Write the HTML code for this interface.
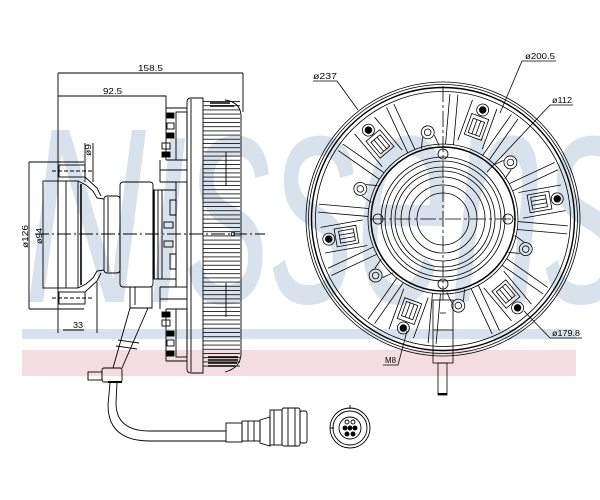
<!DOCTYPE html>
<html><head><meta charset="utf-8">
<style>
html,body{margin:0;padding:0;background:#fff;}
svg{display:block;}
text{font-family:"Liberation Sans",sans-serif;font-size:8px;fill:#000;}
</style></head><body>
<svg width="600" height="500" viewBox="0 0 600 500" xmlns="http://www.w3.org/2000/svg">
<defs>
<pattern id="fins" x="0" y="101" width="10" height="4.2" patternUnits="userSpaceOnUse">
<line x1="0" y1="0.5" x2="10" y2="0.5" stroke="#000" stroke-width="0.8"/>
</pattern>
<clipPath id="wmclip"><rect x="0" y="118" width="600" height="220"/></clipPath>
</defs>

<!-- watermark -->
<g clip-path="url(#wmclip)">
<text x="24" y="302" style="font-size:250px;font-style:italic;fill:#d7e2ec" textLength="122" lengthAdjust="spacingAndGlyphs">N</text>
<text x="150" y="302" style="font-size:310px;font-style:italic;fill:#d7e2ec" textLength="480" lengthAdjust="spacingAndGlyphs">issens</text>
</g>
<rect x="22" y="329" width="554" height="10" fill="#d7e2ec"/>
<rect x="22" y="350" width="554" height="26" fill="#f3dde2"/>

<!-- ================= SIDE VIEW ================= -->
<g fill="none" stroke="#000" stroke-width="0.9">
<!-- dimensions -->
<path d="M58,73 H243 M58,73 V333 M243,73 V112 M58,96 H166 V108"/>
<path d="M29,162 H84 M29,162 V309 M29,309 H84"/>
<path d="M85,143 V182 M93,143 V182"/>
<path d="M63,330 H84 M97,282 V333"/>
<!-- center line -->
<path d="M35,234 H265" stroke-dasharray="14 3 2 3"/>
<circle cx="233" cy="234" r="1.8"/>

<!-- left flange -->
<rect x="43" y="181" width="35" height="107"/>
<path d="M58,181 V288 M66,181 V288"/>
<path d="M81,184 V285" stroke-width="1.6"/>
<g>
<path d="M78,181 L86,185 L93,191 L97,198 L104,199"/>
<path d="M85,177 L97,188 L101,196"/>
<rect x="59" y="165" width="26" height="12"/>
<path d="M52,171 H92" stroke-dasharray="4 2"/>
</g>
<g transform="matrix(1 0 0 -1 0 469)">
<path d="M78,181 L86,185 L93,191 L97,198 L104,199"/>
<path d="M85,177 L97,188 L101,196"/>
<rect x="59" y="165" width="26" height="12"/>
<path d="M52,171 H92" stroke-dasharray="4 2"/>
</g>

<!-- hub and body -->
<rect x="104" y="196" width="16" height="77" rx="3"/>
<path d="M108,197 V272"/>
<rect x="120" y="182" width="33" height="105" rx="3"/>
<rect x="153" y="190" width="5" height="89"/>
<path d="M154,190 V279" stroke-width="1.5"/>

<!-- left structure -->
<rect x="176" y="182" width="11" height="105"/>
<g>
<path d="M166,108 H187 M166,108 V160 M166,160 H187 M160,170 H187 M160,160 V182 M160,182 H176"/>
<rect x="176" y="112" width="11" height="48"/>
<rect x="167" y="113" width="7" height="5" fill="#000"/>
<rect x="167" y="123" width="7" height="6"/>
<rect x="167" y="133" width="7" height="5" fill="#000"/>
<rect x="162" y="143" width="8" height="6"/>
<rect x="162" y="152" width="8" height="5" fill="#000"/>
<path d="M158,190 H176 M162,190 V234 M170,200 H176 V215 H170 Z"/>
<rect x="164" y="222" width="9" height="6"/>
</g>
<g transform="matrix(1 0 0 -1 0 469)">
<path d="M166,108 H187 M166,108 V160 M166,160 H187 M160,170 H187 M160,160 V182 M160,182 H176"/>
<rect x="176" y="112" width="11" height="48"/>
<rect x="167" y="113" width="7" height="5" fill="#000"/>
<rect x="167" y="123" width="7" height="6"/>
<rect x="167" y="133" width="7" height="5" fill="#000"/>
<rect x="162" y="143" width="8" height="6"/>
<rect x="162" y="152" width="8" height="5" fill="#000"/>
<path d="M158,190 H176 M162,190 V234 M170,200 H176 V215 H170 Z"/>
<rect x="164" y="222" width="9" height="6"/>
</g>

<!-- disc -->
<path d="M191,98 H203 V373 H191 Q187,373 187,369 V102 Q187,98 191,98 Z"/>
<path d="M191,99 V372"/>
<!-- fins -->
<rect x="203" y="101" width="37" height="268" fill="url(#fins)" stroke="none"/>
<path d="M225,100 Q240,102 241,115 V355 Q240,368 225,372"/>
<path d="M226,283 V317 M226,152 V186"/>
<path d="M208,357 H238 M208,360 H238 M208,363 H237 M208,366 H235 M210,103 H230 M210,106 H234" stroke-width="1.4"/>

<!-- cable -->
<path d="M130,287 V308 H152 V287 M135,287 V305"/>
<path d="M130,308 L113,368 M148,308 L122,368 M118,340 L139,343 M116,346 L137,349"/>
<rect x="102" y="368" width="20" height="14" rx="2"/>
<rect x="88" y="372" width="14" height="8"/>
<path d="M108,382 H122" stroke-width="2"/>
<path d="M110,383 L108,405 Q108,441 150,441 H226"/>
<path d="M117,383 L116,403 Q116,431 150,431 H226"/>
<!-- connector -->
<rect x="226" y="423" width="16" height="19"/>
<rect x="242" y="421" width="18" height="20"/>
<path d="M248,421 V441 M254,421 V441"/>
<path d="M260,420 L270,417 V446 L260,443 Z"/>
<rect x="270" y="410" width="12" height="35"/>
<rect x="282" y="408" width="18" height="38" rx="2"/>
<rect x="300" y="411" width="7" height="32" rx="2"/>
<path d="M274,410 V445 M288,408 V446 M295,408 V446"/>
<!-- round face -->
<circle cx="350" cy="428" r="20"/>
<circle cx="350" cy="428" r="17"/>
<circle cx="350" cy="428" r="11"/>
<path d="M350,405 V409 M330,428 H334"/>
<circle cx="347" cy="422" r="2"/><circle cx="353" cy="422" r="2"/>
<circle cx="345" cy="428" r="2" fill="#000"/><circle cx="350" cy="428" r="2" fill="#000"/><circle cx="355" cy="428" r="2" fill="#000"/>
<circle cx="347" cy="434" r="2" fill="#000"/><circle cx="353" cy="434" r="2" fill="#000"/>
</g>

<!-- side view labels -->
<text x="138" y="71" textLength="25" lengthAdjust="spacingAndGlyphs">158.5</text>
<text x="103" y="94" textLength="19" lengthAdjust="spacingAndGlyphs">92.5</text>
<text x="73" y="328" textLength="10" lengthAdjust="spacingAndGlyphs">33</text>
<text transform="translate(28,248) rotate(-90)" textLength="23" lengthAdjust="spacingAndGlyphs">ø126</text>
<text transform="translate(42,244) rotate(-90)" textLength="16" lengthAdjust="spacingAndGlyphs">ø94</text>
<text transform="translate(91,156) rotate(-90)" textLength="12" lengthAdjust="spacingAndGlyphs">ø9</text>

<!-- ================= FRONT VIEW ================= -->
<g fill="none" stroke="#000" stroke-width="0.8">
<circle cx="443" cy="219" r="137"/>
<circle cx="443" cy="219" r="134.5"/>
<circle cx="443" cy="219" r="131.5" stroke-width="1.4"/>
<circle cx="443" cy="219" r="127.5"/>
<!-- hub rings -->
<circle cx="443" cy="219" r="75"/>
<circle cx="443" cy="219" r="72" stroke-width="1.5"/>
<circle cx="443" cy="219" r="62"/>
<circle cx="443" cy="219" r="58"/>
<circle cx="443" cy="219" r="52"/>
<circle cx="443" cy="219" r="48"/>
<circle cx="443" cy="219" r="42"/>
<circle cx="443" cy="219" r="34"/>
<circle cx="443" cy="219" r="26"/>
<!-- hub bolts -->
<circle cx="443" cy="154" r="5"/>
<circle cx="443" cy="284" r="5"/>
<circle cx="378" cy="219" r="5"/>
<circle cx="508" cy="219" r="5"/>

<!-- ribs -->
<g transform="rotate(5 443 219)"><path d="M439,94 V144 M447,94 V144"/></g>
<g transform="rotate(35 443 219)"><path d="M439,94 V144 M447,94 V144"/></g>
<g transform="rotate(65 443 219)"><path d="M439,94 V144 M447,94 V144"/></g>
<g transform="rotate(95 443 219)"><path d="M439,94 V144 M447,94 V144"/></g>
<g transform="rotate(125 443 219)"><path d="M439,94 V144 M447,94 V144"/></g>
<g transform="rotate(155 443 219)"><path d="M439,94 V144 M447,94 V144"/></g>
<g transform="rotate(185 443 219)"><path d="M439,94 V144 M447,94 V144"/></g>
<g transform="rotate(215 443 219)"><path d="M439,94 V144 M447,94 V144"/></g>
<g transform="rotate(245 443 219)"><path d="M439,94 V144 M447,94 V144"/></g>
<g transform="rotate(275 443 219)"><path d="M439,94 V144 M447,94 V144"/></g>
<g transform="rotate(305 443 219)"><path d="M439,94 V144 M447,94 V144"/></g>
<g transform="rotate(335 443 219)"><path d="M439,94 V144 M447,94 V144"/></g>

<!-- windows + dark bolts -->
<g transform="rotate(20 443 219)"><rect x="434" y="110" width="18" height="22"/><rect x="437" y="114" width="12" height="15"/><path d="M441,114 V129 M445,114 V129 M430,97 V140 M456,97 V140"/><circle cx="443" cy="103" r="6"/><circle cx="443" cy="103" r="3.3" fill="#000"/></g>
<g transform="rotate(80 443 219)"><rect x="434" y="110" width="18" height="22"/><rect x="437" y="114" width="12" height="15"/><path d="M441,114 V129 M445,114 V129 M430,97 V140 M456,97 V140"/><circle cx="443" cy="103" r="6"/><circle cx="443" cy="103" r="3.3" fill="#000"/></g>
<g transform="rotate(140 443 219)"><rect x="434" y="110" width="18" height="22"/><rect x="437" y="114" width="12" height="15"/><path d="M441,114 V129 M445,114 V129 M430,97 V140 M456,97 V140"/><circle cx="443" cy="103" r="6"/><circle cx="443" cy="103" r="3.3" fill="#000"/></g>
<g transform="rotate(200 443 219)"><rect x="434" y="110" width="18" height="22"/><rect x="437" y="114" width="12" height="15"/><path d="M441,114 V129 M445,114 V129 M430,97 V140 M456,97 V140"/><circle cx="443" cy="103" r="6"/><circle cx="443" cy="103" r="3.3" fill="#000"/></g>
<g transform="rotate(260 443 219)"><rect x="434" y="110" width="18" height="22"/><rect x="437" y="114" width="12" height="15"/><path d="M441,114 V129 M445,114 V129 M430,97 V140 M456,97 V140"/><circle cx="443" cy="103" r="6"/><circle cx="443" cy="103" r="3.3" fill="#000"/></g>
<g transform="rotate(320 443 219)"><rect x="434" y="110" width="18" height="22"/><rect x="437" y="114" width="12" height="15"/><path d="M441,114 V129 M445,114 V129 M430,97 V140 M456,97 V140"/><circle cx="443" cy="103" r="6"/><circle cx="443" cy="103" r="3.3" fill="#000"/></g>

<!-- open bosses -->
<g transform="rotate(-10 443 219)"><circle cx="443" cy="131" r="6.5"/><circle cx="443" cy="131" r="3.3"/><path d="M437,135 L434,146 M449,135 L452,146"/></g>
<g transform="rotate(50 443 219)"><circle cx="443" cy="131" r="6.5"/><circle cx="443" cy="131" r="3.3"/><path d="M437,135 L434,146 M449,135 L452,146"/></g>
<g transform="rotate(110 443 219)"><circle cx="443" cy="131" r="6.5"/><circle cx="443" cy="131" r="3.3"/><path d="M437,135 L434,146 M449,135 L452,146"/></g>
<g transform="rotate(170 443 219)"><circle cx="443" cy="131" r="6.5"/><circle cx="443" cy="131" r="3.3"/><path d="M437,135 L434,146 M449,135 L452,146"/></g>
<g transform="rotate(230 443 219)"><circle cx="443" cy="131" r="6.5"/><circle cx="443" cy="131" r="3.3"/><path d="M437,135 L434,146 M449,135 L452,146"/></g>
<g transform="rotate(290 443 219)"><circle cx="443" cy="131" r="6.5"/><circle cx="443" cy="131" r="3.3"/><path d="M437,135 L434,146 M449,135 L452,146"/></g>

<!-- crosshair -->
<path d="M370,219 H516 M443,86 V300" stroke-dasharray="16 3 3 3"/>

<!-- bottom connector -->
<rect x="433" y="300" width="20" height="63"/>
<path d="M440,313 H446 M433,330 H453"/>
<rect x="438" y="363" width="9" height="32"/>
<path d="M438,394 H447" stroke-width="2"/>

<!-- leaders -->
<path d="M313,81 H337 L358,110"/>
<path d="M556,61 H522 L500,113"/>
<path d="M573,105 H550 L487,172"/>
<path d="M582,338 H550 L524,311"/>
<path d="M383,365 H398 L407,331"/>
</g>

<!-- front view labels -->
<text x="313" y="79" textLength="24" lengthAdjust="spacingAndGlyphs">ø237</text>
<text x="525" y="59" textLength="30" lengthAdjust="spacingAndGlyphs">ø200.5</text>
<text x="552" y="103" textLength="20" lengthAdjust="spacingAndGlyphs">ø112</text>
<text x="552" y="336" textLength="28" lengthAdjust="spacingAndGlyphs">ø179.8</text>
<text x="385" y="363" textLength="11" lengthAdjust="spacingAndGlyphs">M8</text>
</svg>
</body></html>
